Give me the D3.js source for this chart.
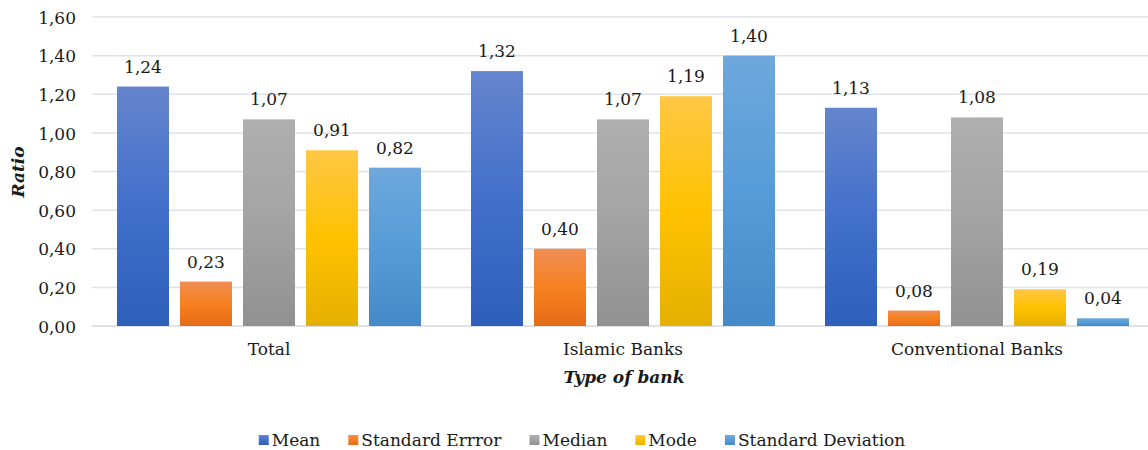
<!DOCTYPE html>
<html>
<head>
<meta charset="utf-8">
<script src="https://cdn.jsdelivr.net/npm/d3@7/dist/d3.min.js"></script>
<style>
  html, body { margin: 0; padding: 0; background: #fff; }
  svg { display: block; }
  text { font-family: "DejaVu Serif", serif; fill: #1a1a1a; }
</style>
</head>
<body>
<svg id="chart" width="1148" height="450"></svg>
<script>
const categories = ["Total", "Islamic Banks", "Conventional Banks"];
const seriesNames = ["Mean", "Standard Errror", "Median", "Mode", "Standard Deviation"];
const meanValues = [1.24, 1.32, 1.13];
const stdErrorValues = [0.23, 0.40, 0.08];
const medianValues = [1.07, 1.07, 1.08];
const modeValues = [0.91, 1.19, 0.19];
const stdDevValues = [0.82, 1.40, 0.04];
const yTicks = [0, 0.2, 0.4, 0.6, 0.8, 1.0, 1.2, 1.4, 1.6];
const yTitle = "Ratio";
const xTitle = "Type of bank";

const seriesValues = [meanValues, stdErrorValues, medianValues, modeValues, stdDevValues];
// gradient stops: top, middle, bottom
const seriesGradients = [
  ["#6585cd", "#4270cb", "#2e5fbb"],
  ["#f18e55", "#f6811f", "#e56b17"],
  ["#afafaf", "#a3a3a3", "#919191"],
  ["#ffc746", "#ffc200", "#e5b000"],
  ["#6ea8dc", "#569cd8", "#448ac8"]
];

const locale = d3.formatLocale({decimal: ",", thousands: ".", grouping: [3], currency: ["", ""]});
const fmt = locale.format(".2f");

const svg = d3.select("#chart");
const fontSize = 17;

const x0 = d3.scaleBand().domain(categories).range([92, 1154]).paddingInner(0).paddingOuter(0);
const x1 = d3.scaleBand().domain(seriesNames).range([25, 329]).paddingInner(11 / 63).paddingOuter(0);
const y = d3.scaleLinear().domain([0, 1.6]).range([326, 17]);

const defs = svg.append("defs");
seriesNames.forEach((s, i) => {
  const g = defs.append("linearGradient").attr("id", "grad" + i)
    .attr("x1", 0).attr("y1", 0).attr("x2", 0).attr("y2", 1);
  g.append("stop").attr("offset", "0%").attr("stop-color", seriesGradients[i][0]);
  g.append("stop").attr("offset", "50%").attr("stop-color", seriesGradients[i][1]);
  g.append("stop").attr("offset", "100%").attr("stop-color", seriesGradients[i][2]);
});

// gridlines
svg.append("g").selectAll("line").data(yTicks).join("line")
  .attr("x1", 92).attr("x2", 1148)
  .attr("y1", d => y(d)).attr("y2", d => y(d))
  .attr("stroke", d => d === 0 ? "#d5d8de" : "#dfe2e8").attr("stroke-width", 1.5);

// y axis labels
const yAxis = d3.axisLeft(y).tickValues(yTicks).tickFormat(fmt).tickSize(0).tickPadding(0);
const yg = svg.append("g").attr("transform", "translate(76,0)").call(yAxis);
yg.select(".domain").remove();
yg.selectAll("text").style("font-family", '"DejaVu Serif", serif').style("font-size", fontSize + "px")
  .attr("fill", "#1a1a1a").attr("dy", "0.36em");

// bars
const groups = svg.append("g").selectAll("g").data(categories).join("g")
  .attr("transform", d => `translate(${x0(d)},0)`);

groups.each(function(cat, ci) {
  const g = d3.select(this);
  const data = seriesNames.map((s, si) => ({s, si, v: seriesValues[si][ci]}));
  g.selectAll("rect").data(data).join("rect")
    .attr("x", d => x1(d.s)).attr("width", x1.bandwidth())
    .attr("y", d => y(d.v)).attr("height", d => y(0) - y(d.v))
    .attr("fill", d => `url(#grad${d.si})`);
  g.selectAll("text.lbl").data(data).join("text").attr("class", "lbl")
    .attr("x", d => x1(d.s) + x1.bandwidth() / 2).attr("y", d => y(d.v) - 14)
    .attr("text-anchor", "middle").style("font-size", fontSize + "px")
    .text(d => fmt(d.v));
});

// x axis category labels
const xAxis = d3.axisBottom(x0).tickSize(0).tickPadding(0);
const xg = svg.append("g").attr("transform", "translate(0,343)").call(xAxis);
xg.select(".domain").remove();
xg.selectAll("text").style("font-family", '"DejaVu Serif", serif').style("font-size", fontSize + "px")
  .attr("fill", "#1a1a1a").attr("dy", "0.71em");

// axis titles
svg.append("text").attr("x", 624).attr("y", 383).attr("text-anchor", "middle")
  .style("font-size", fontSize + "px").style("font-weight", "bold").style("font-style", "italic")
  .text(xTitle);
svg.append("text").attr("transform", "translate(24,172) rotate(-90)").attr("text-anchor", "middle")
  .style("font-size", fontSize + "px").style("font-weight", "bold").style("font-style", "italic")
  .text(yTitle);

// legend
const legend = svg.append("g");
const items = legend.selectAll("g").data(seriesNames).join("g");
items.append("rect").attr("width", 10).attr("height", 10).attr("y", -11)
  .attr("fill", (d, i) => `url(#grad${i})`);
items.append("text").attr("x", 13).attr("y", 0).style("font-size", fontSize + "px").text(d => d);
let cx = 0;
items.each(function() {
  const it = d3.select(this);
  it.attr("transform", `translate(${cx},0)`);
  cx += 13 + it.select("text").node().getComputedTextLength() + 28;
});
const total = cx - 28;
legend.attr("transform", `translate(${582 - total / 2},446)`);
</script>
</body>
</html>
